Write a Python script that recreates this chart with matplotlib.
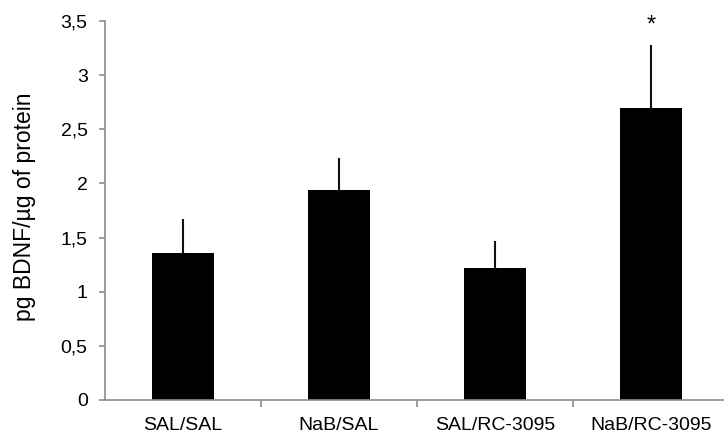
import numpy as np
import matplotlib.pyplot as plt
from matplotlib.ticker import FuncFormatter, FixedLocator

plt.rcParams['font.family'] = ['Liberation Sans', 'DejaVu Sans']

groups = ["SAL/SAL", "NaB/SAL", "SAL/RC-3095", "NaB/RC-3095"]
bdnf = [1.355, 1.936, 1.216, 2.70]
sem = [0.315, 0.30, 0.255, 0.58]
signif = ["", "", "", "*"]

fig = plt.figure(figsize=(7.24, 4.41), dpi=100)
ax = fig.add_axes([105 / 724, 41 / 441, 624 / 724, 379 / 441])

x = np.arange(len(groups))
ax.bar(x, bdnf, width=0.4, color="black", zorder=2)
# upward-only error bars
ax.errorbar(x, bdnf, yerr=[np.zeros(len(sem)), sem], fmt="none",
            ecolor="#111111", elinewidth=1.5, capsize=0, zorder=3)

for xi, v, e, s in zip(x, bdnf, sem, signif):
    if s:
        ax.text(xi, v + e + 0.08, s, ha="center", va="bottom",
                fontsize=17, clip_on=False)

ax.set_xlim(-0.5, 3.5)
ax.set_ylim(0, 3.5)
ax.set_yticks(np.arange(0, 3.51, 0.5))
ax.yaxis.set_major_formatter(FuncFormatter(
    lambda v, p: ("%g" % v).replace(".", ",")))
ax.set_xticks(x)
ax.set_xticklabels(groups)
ax.xaxis.set_minor_locator(FixedLocator([0.5, 1.5, 2.5]))

grey = "#8c8c8c"
for side in ["top", "right"]:
    ax.spines[side].set_visible(False)
for side in ["left", "bottom"]:
    ax.spines[side].set_color(grey)
    ax.spines[side].set_linewidth(1.2)

ax.tick_params(axis="y", direction="out", length=4.5, width=1.2, color=grey,
               labelsize=14, pad=8)
ax.tick_params(axis="x", which="major", length=0, labelsize=14, pad=12)
ax.tick_params(axis="x", which="minor", direction="out", length=5,
               width=1.2, color=grey)

ax.set_ylabel("pg BDNF/µg of protein", fontsize=16.5)
ax.yaxis.set_label_coords(-0.11, 0.51)

fig.savefig("out.png", dpi=100)
